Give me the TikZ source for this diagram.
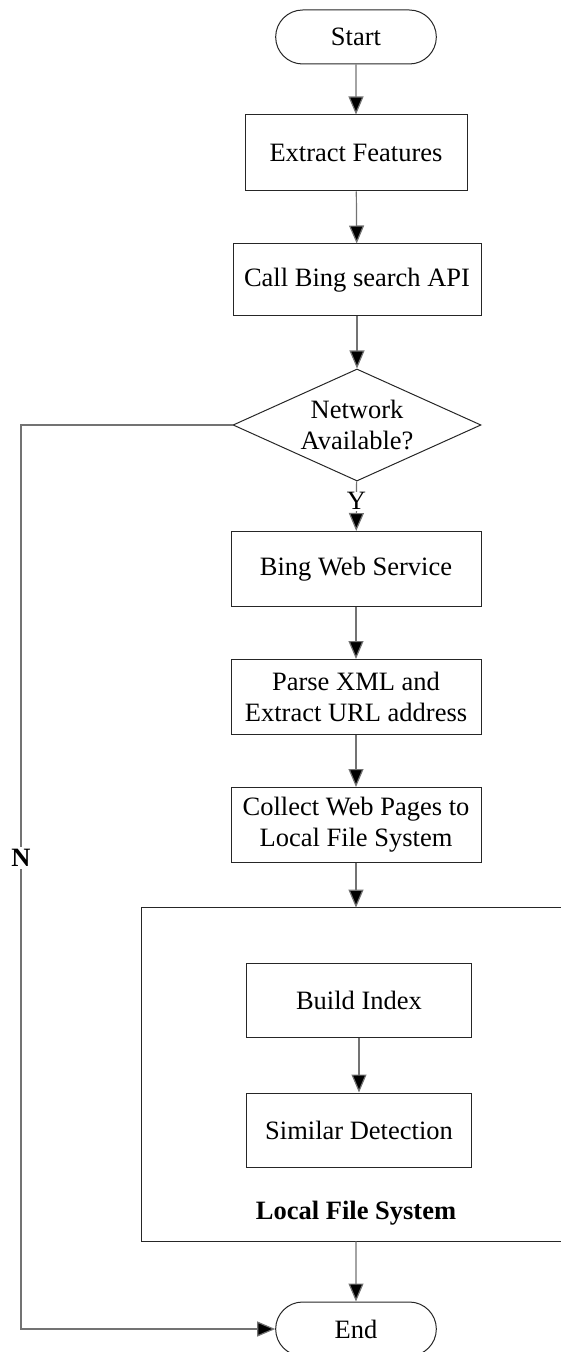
\documentclass[tikz,border=0pt]{standalone}
\usepackage{fontspec}
\setmainfont{Liberation Serif}
\usepackage{tikz}
\usetikzlibrary{shapes.geometric, shapes.misc, arrows.meta}

\begin{document}
\begin{tikzpicture}[x=.5pt, y=-.5pt,
	every node/.style={font=\fontsize{13.25}{15.5}\selectfont, align=center},
	box/.style={draw=black!85, line width=.5pt, rectangle, minimum width=125pt, minimum height=37.5pt, inner sep=2pt},
	term/.style={draw=black!85, line width=.5pt, rounded rectangle, minimum width=87pt, minimum height=27pt},
	cond/.style={draw=black!85, line width=.5pt, diamond, shape aspect=2.2, minimum width=124pt, minimum height=56pt, inner sep=0pt},
	arr/.style={draw=black!55, line width=.6pt, -{Triangle[length=9pt, width=7.5pt, fill=black]}}]
	\useasboundingbox (0,0) rectangle (561,1352);
	%inicio
	\node[term] (start) at (356,37) {Start};
	\node[box, minimum width=111pt, minimum height=38pt] (extract) at (356,153) {Extract Features};
	\node[box, minimum width=124pt, minimum height=36pt] (call) at (357,280) {Call Bing search API};
	%decision
	\node[cond] (net) at (357,425) {Network\\Available?};
	%rama Y
	\node[box] (bing) at (356,569) {Bing Web Service};
	\node[box] (parse) at (356,697) {Parse XML and\\Extract URL address};
	\node[box] (collect) at (356,825) {Collect Web Pages to\\Local File System};
	%sistema local (abierto a la derecha)
	\node[minimum width=219pt, minimum height=166.5pt, inner sep=0pt] (lfs) at (361,1074.5) {};
	\draw[black!85, line width=.5pt] (lfs.north east) -- (lfs.north west) -- (lfs.south west) -- (lfs.south east);
	\node[box, minimum width=112.5pt, minimum height=37pt] (build) at (359,1000) {Build Index};
	\node[box, minimum width=112.5pt, minimum height=37pt] (simdet) at (359,1130) {Similar Detection};
	\node[font=\fontsize{13.25}{15.5}\selectfont\bfseries] (lfslabel) at (356,1213) {Local File System};
	%fin
	\node[term] (end) at (356,1329) {End};
	
	\draw[arr] (start) -- (extract);
	\draw[arr] (extract) -- (call);
	\draw[arr] (call) -- (net);
	\draw[arr] (net) -- node[fill=white, inner sep=.5pt, pos=.4] (ylab) {Y} (bing);
	\draw[arr] (bing) -- (parse);
	\draw[arr] (parse) -- (collect);
	\draw[arr] (collect) -- (collect |- lfs.north);
	\draw[arr] (build) -- (simdet);
	\draw[arr] (lfs.south -| end) -- (end);
	
	%rama N
	\coordinate (nleft) at (21,877);
	\draw[arr] (net.west) -| (nleft) |- (end.west);
	\node[fill=white, inner sep=1pt, font=\fontsize{13.25}{15.5}\selectfont\bfseries] (nlab) at (21,858) {N};
\end{tikzpicture}
\end{document}
